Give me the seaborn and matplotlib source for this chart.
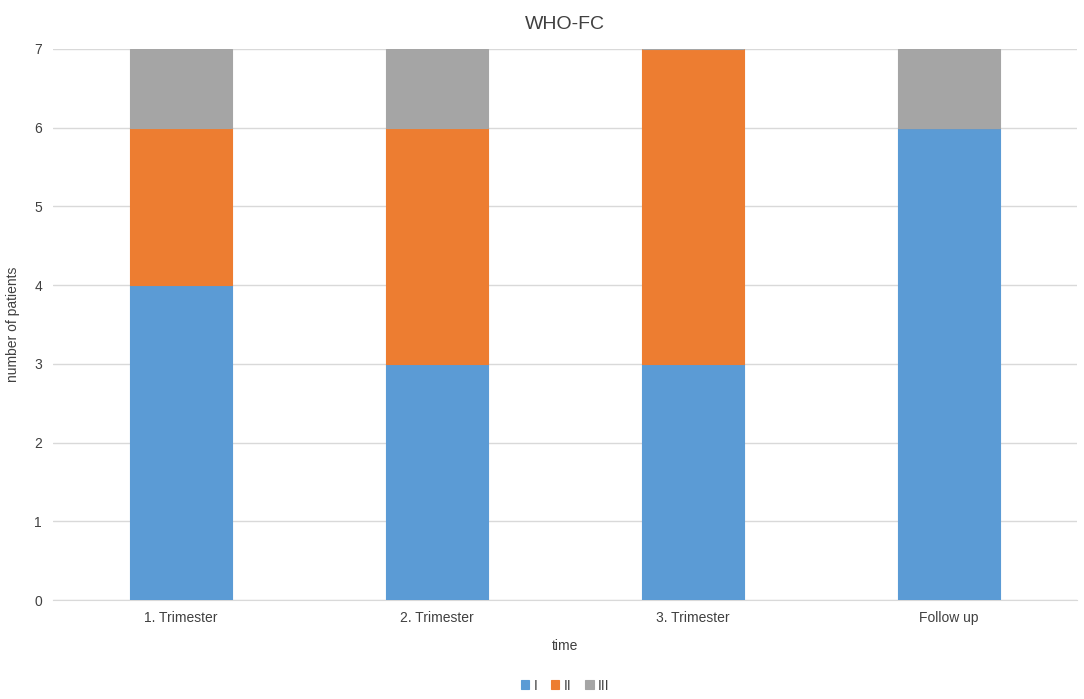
import numpy as np
import seaborn as sns
import matplotlib.pyplot as plt

categories = ['1. Trimester', '2. Trimester', '3. Trimester', 'Follow up']
class_i = [4, 3, 3, 6]
class_ii = [2, 3, 4, 0]
class_iii = [1, 1, 0, 1]

series = [('I', class_i, '#5B9BD5'), ('II', class_ii, '#ED7D31'), ('III', class_iii, '#A5A5A5')]

sns.set_style('white')
plt.rcParams['font.family'] = ['Liberation Sans', 'DejaVu Sans']

fig = plt.figure(figsize=(10.84, 6.99), dpi=100)
ax = fig.add_axes([0.049, 0.1416, 0.9445, 0.7884])

bottom = np.zeros(len(categories))
for name, vals, color in series:
    sns.barplot(x=categories, y=vals, bottom=bottom, color=color, width=0.4,
                saturation=1, label=name, ax=ax, edgecolor=color,
                linewidth=0.8, zorder=3)
    bottom += np.array(vals)

ax.set_ylim(0, 7)
ax.set_xlim(-0.5, 3.5)
ax.set_yticks(range(8))
ax.yaxis.grid(True, color='#D9D9D9', linewidth=1, zorder=0)
ax.set_axisbelow(True)
for s in ['top', 'right', 'left']:
    ax.spines[s].set_visible(False)
ax.spines['bottom'].set_color('#D9D9D9')
ax.tick_params(axis='both', length=0, labelsize=10, colors='#404040', pad=8)

ax.set_title('WHO-FC', fontsize=14, color='#404040', pad=14)
ax.set_xlabel('time', fontsize=10, color='#404040', labelpad=10)
ax.set_ylabel('number of patients', fontsize=10, color='#404040', labelpad=10)

ax.legend(loc='upper center', bbox_to_anchor=(0.5, -0.12), ncol=3, frameon=False,
          fontsize=10, handlelength=0.6, handleheight=0.6, handletextpad=0.3,
          columnspacing=1.0, labelcolor='#404040')

fig.savefig('out.png', dpi=100)
